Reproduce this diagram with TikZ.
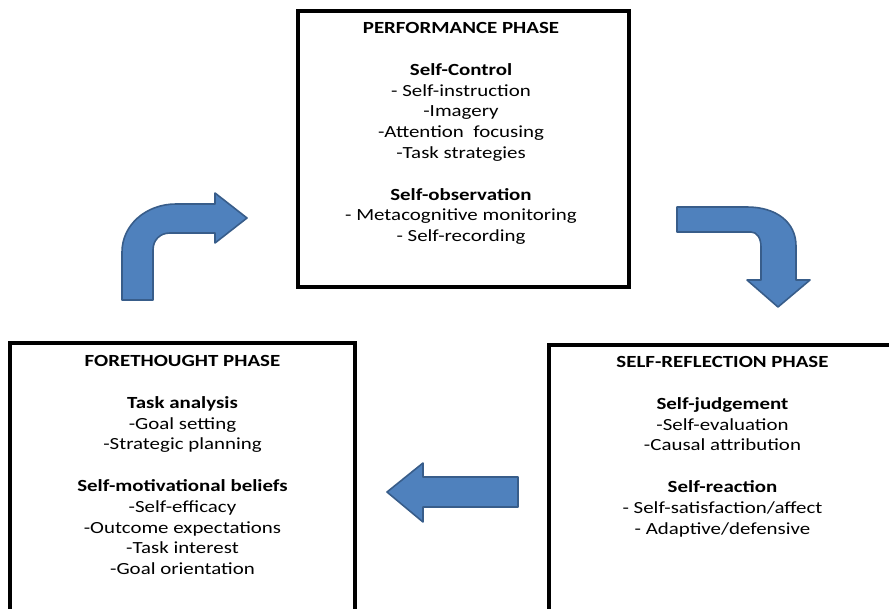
\documentclass[tikz,border=0pt]{standalone}
\usepackage{fontspec}
\setmainfont{Carlito}[FakeStretch=1.23]
\begin{document}
\begin{tikzpicture}[x=1pt,y=-1pt,
  phasebox/.style={draw=black,line width=3.2pt,rectangle,inner sep=0pt},
  phasetext/.style={align=center,anchor=north,inner sep=0pt,text=black,
    font=\fontsize{17}{20.8}\selectfont},
  blockarrow/.style={fill={rgb,255:red,79;green,129;blue,189},
    draw={rgb,255:red,56;green,93;blue,138},line width=1.6pt,line join=round}]
\useasboundingbox (0,0) rectangle (889,608);
\clip (0,0) rectangle (889,608);
% boxes
\node[phasebox,minimum width=331pt,minimum height=276pt] (perf) at (463.5,149) {};
\node[phasebox,minimum width=345pt,minimum height=307pt] (fore) at (182.5,496.5) {};
\node[phasebox,minimum width=381pt,minimum height=305pt] (refl) at (739.5,497.5) {};
% texts
\node[phasetext] (perftext) at (461,22.4) {\textbf{PERFORMANCE PHASE}\\[20.8pt]
  \textbf{Self-Control}\\
  - Self-instruction\\
  -Imagery\\
  -Attention\ \ focusing\\
  -Task strategies\\[20.8pt]
  \textbf{Self-observation}\\
  - Metacognitive monitoring\\
  - Self-recording};
\node[phasetext] (foretext) at (182.5,355.3) {\textbf{FORETHOUGHT PHASE}\\[20.8pt]
  \textbf{Task analysis}\\
  -Goal setting\\
  -Strategic planning\\[20.8pt]
  \textbf{Self-motivational beliefs}\\
  -Self-efficacy\\
  -Outcome expectations\\
  -Task interest\\
  -Goal orientation};
\node[phasetext] (refltext) at (722.5,356.3) {\textbf{SELF-REFLECTION PHASE}\\[20.8pt]
  \textbf{Self-judgement}\\
  -Self-evaluation\\
  -Causal attribution\\[20.8pt]
  \textbf{Self-reaction}\\
  - Self-satisfaction/affect\\
  - Adaptive/defensive};
% arrows
\draw[blockarrow] (122,300) -- (122,252) .. controls (122,225) and (146,204) .. (176,204)
  -- (215,204) -- (215,193) -- (247,218) -- (215,243) -- (215,233) -- (170,233)
  .. controls (160,233) and (153,240) .. (153,250) -- (153,300) -- cycle;
\draw[blockarrow] (677,207) -- (747,207) .. controls (776,207) and (796,222) .. (796,246)
  -- (796,280) -- (810,280) -- (778,307) -- (747,280) -- (761,280) -- (761,247)
  .. controls (761,238) and (757,232) .. (751,232) -- (677,232) -- cycle;
\draw[blockarrow] (518,477) -- (423,477) -- (423,463) -- (387,492) -- (423,522)
  -- (423,507) -- (518,507) -- cycle;
\end{tikzpicture}
\end{document}
